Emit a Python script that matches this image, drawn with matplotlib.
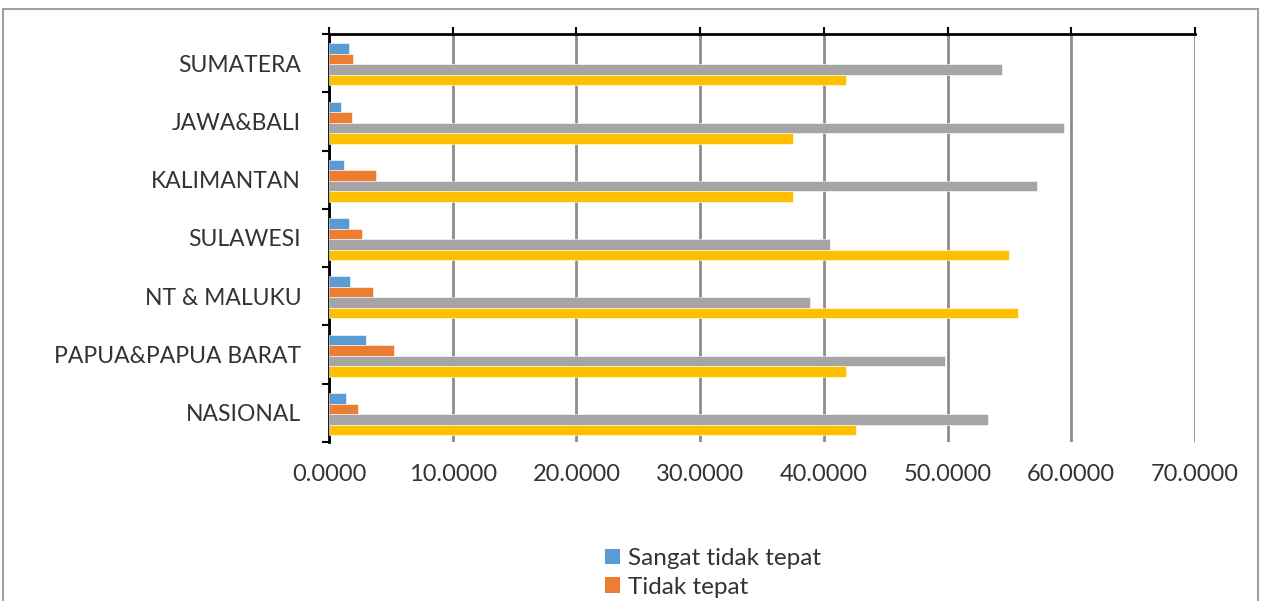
import matplotlib
matplotlib.use("Agg")
import matplotlib.pyplot as plt
from matplotlib.patches import Patch
from matplotlib.lines import Line2D
import numpy as np

plt.rcParams['font.family'] = ['Lato', 'DejaVu Sans']

categories = ["SUMATERA", "JAWA&BALI", "KALIMANTAN", "SULAWESI", "NT & MALUKU",
              "PAPUA&PAPUA BARAT", "NASIONAL"]
sangat_tidak_tepat = [1.62, 1.00, 1.21, 1.62, 1.73, 2.96, 1.40]
tidak_tepat = [1.94, 1.83, 3.80, 2.67, 3.59, 5.25, 2.35]
tepat = [54.4, 59.4, 57.2, 40.5, 38.9, 49.8, 53.3]
sangat_tepat = [41.8, 37.5, 37.5, 55.0, 55.7, 41.8, 42.6]
xticks = [0, 10, 20, 30, 40, 50, 60, 70]
xtick_labels = ["0.0000", "10.0000", "20.0000", "30.0000", "40.0000", "50.0000",
                "60.0000", "70.0000"]

series = [sangat_tidak_tepat, tidak_tepat, tepat, sangat_tepat]
colors = ["#5B9BD5", "#ED7D31", "#A5A5A5", "#FFC000"]
offsets = [-0.25, -0.07, 0.11, 0.29]
h = 0.18

W, H = 1261, 601
fig = plt.figure(figsize=(W / 100, H / 100), dpi=100)
ax = fig.add_axes([329 / W, 1 - 442 / H, (1195 - 329) / W, (442 - 34) / H])

y = np.arange(len(categories))
for vals, c, off in zip(series, colors, offsets):
    ax.barh(y + off, vals, height=h, color=c, edgecolor="white", linewidth=0.4, zorder=3)

ax.set_xlim(0, 70)
ax.set_ylim(len(categories) - 0.5, -0.5)

ax.set_xticks(xticks)
ax.set_xticklabels(xtick_labels, fontsize=17, color="#333333")
ax.xaxis.set_ticks_position('top')
ax.tick_params(axis='x', which='major', top=True, bottom=False, labeltop=False,
               labelbottom=True, direction='out', length=5, width=1.5, color='black',
               pad=11)
ax.grid(axis='x', color='#8C8C8C', linewidth=2, zorder=1)

ax.set_yticks(y)
ax.set_yticklabels(categories, fontsize=16.5, color="#333333")
ax.tick_params(axis='y', which='major', length=0, pad=20)
ax.set_yticks(np.arange(-0.5, len(categories)), minor=True)
ax.tick_params(axis='y', which='minor', length=5, width=1.5, color='black', direction='out')

for s in ['bottom', 'right']:
    ax.spines[s].set_visible(False)
ax.spines['top'].set_linewidth(2)
ax.spines['left'].set_linewidth(2)
ax.spines['top'].set_color('black')
ax.spines['left'].set_color('black')

# outer chart frame
fx0, fx1, fy = 3 / W, 1258 / W, 1 - 9 / H
fig.add_artist(Line2D([fx0, fx1], [fy, fy], transform=fig.transFigure, color='#A0A0A0', lw=1.5))
fig.add_artist(Line2D([fx0, fx0], [fy, -0.1], transform=fig.transFigure, color='#A0A0A0', lw=1.5))
fig.add_artist(Line2D([fx1, fx1], [fy, fy - 1], transform=fig.transFigure, color='#A0A0A0', lw=1.5))

handles = [Patch(facecolor=colors[0]), Patch(facecolor=colors[1])]
fig.legend(handles, ["Sangat tidak tepat", "Tidak tepat"], loc='upper left',
           bbox_to_anchor=(598 / W, 1 - 541 / H), frameon=False, fontsize=17.5,
           handlelength=0.6, handleheight=0.6, handletextpad=0.35, labelspacing=0.3,
           labelcolor="#333333", borderaxespad=0, borderpad=0.3)

fig.savefig("out.png", dpi=100)
